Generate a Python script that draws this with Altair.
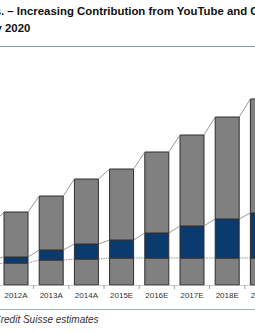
import altair as alt
import pandas as pd

# ---- data ----
years = [2011, 2012, 2013, 2014, 2015, 2016, 2017, 2018, 2019]
year_labels = ["2011A", "2012A", "2013A", "2014A", "2015E", "2016E", "2017E", "2018E", "2019E"]
base_vals = [10, 11, 12.5, 13, 13.5, 13.5, 13.5, 13.5, 13.5]
youtube_vals = [2.5, 3, 5, 7.5, 9, 12.5, 16, 19.5, 22.5]
other_vals = [18, 22.5, 27, 32.5, 35.5, 40.5, 45.5, 51, 57]

title_line1 = "s. \u2013 Increasing Contribution from YouTube and C"
title_line2 = "y 2020"
source_text = "Credit Suisse estimates"

HALF = 0.341  # half bar width in year units
W, H = 255, 333

# ---- build tables ----
seg_rows = []
conn_rows = []
lvl_base, lvl_yt, lvl_tot = [], [], []
for i, yr in enumerate(years):
    b = base_vals[i]
    y = b + youtube_vals[i]
    t = y + other_vals[i]
    lvl_base.append(b); lvl_yt.append(y); lvl_tot.append(t)
    for name, y0, y1 in [("Base", 0, b), ("YouTube", b, y), ("Other", y, t)]:
        seg_rows.append({"year": yr, "seg": name, "y0": y0, "y1": y1,
                         "x0": yr - HALF, "x1": yr + HALF})
for lvl_name, lvl in [("base", lvl_base), ("yt", lvl_yt), ("tot", lvl_tot)]:
    for i in range(len(years) - 1):
        conn_rows.append({"level": lvl_name, "xa": years[i] + HALF, "xb": years[i + 1] - HALF,
                          "ya": lvl[i], "yb": lvl[i + 1]})
segs = pd.DataFrame(seg_rows)
conns = pd.DataFrame(conn_rows)
labels_df = pd.DataFrame({"year": years, "label": year_labels})
ticks_df = pd.DataFrame({"t": [y + 0.5 for y in years]})
one = pd.DataFrame({"k": [0]})

xs = alt.Scale(domain=[2011.5455, 2018.79], nice=False, zero=False)
ys = alt.Scale(domain=[-24, 142.5], nice=False, zero=False)

bars = alt.Chart(segs).mark_bar(stroke="#2e2e2e", strokeWidth=1, clip=True).encode(
    x=alt.X("x0:Q", scale=xs, axis=None),
    x2="x1:Q",
    y=alt.Y("y0:Q", scale=ys, axis=None),
    y2="y1:Q",
    color=alt.Color("seg:N", legend=None,
                    scale=alt.Scale(domain=["Base", "YouTube", "Other"],
                                    range=["#808080", "#0b3a6e", "#808080"])),
)

conn_solid = alt.Chart(conns).transform_filter("datum.level != 'base'").mark_rule(
    color="#808080", strokeWidth=0.8, clip=True).encode(
    x=alt.X("xa:Q", scale=xs, axis=None), x2="xb:Q",
    y=alt.Y("ya:Q", scale=ys, axis=None), y2="yb:Q")
conn_dot = alt.Chart(conns).transform_filter("datum.level == 'base'").mark_rule(
    color="#777777", strokeWidth=0.8, strokeDash=[1.5, 1], clip=True).encode(
    x=alt.X("xa:Q", scale=xs, axis=None), x2="xb:Q",
    y=alt.Y("ya:Q", scale=ys, axis=None), y2="yb:Q")

axis_line = alt.Chart(one).mark_rule(color="#aaaaaa", strokeWidth=0.6).encode(
    x=alt.value(0), x2=alt.value(W), y=alt.value(285.5))
ticks = alt.Chart(ticks_df).mark_rule(color="#888888", strokeWidth=0.8, clip=True).encode(
    x=alt.X("t:Q", scale=xs, axis=None), y=alt.value(285.5), y2=alt.value(289))
xlabels = alt.Chart(labels_df).mark_text(
    font="Liberation Sans", fontSize=8, color="#333333", baseline="alphabetic", align="center").encode(
    x=alt.X("year:Q", scale=xs, axis=None), y=alt.value(298), text="label:N")

top_rule = alt.Chart(one).mark_rule(color="#8797ab", strokeWidth=1).encode(
    x=alt.value(0), x2=alt.value(W), y=alt.value(46.5))
bot_rule = alt.Chart(one).mark_rule(color="#a9b4c2", strokeWidth=1).encode(
    x=alt.value(0), x2=alt.value(W), y=alt.value(309.5))

t1 = alt.Chart(one).mark_text(font="Liberation Sans", fontSize=11.4, fontWeight="bold",
                              color="#111111", align="left", baseline="alphabetic").encode(
    x=alt.value(-5.3), y=alt.value(15), text=alt.value(title_line1))
t2 = alt.Chart(one).mark_text(font="Liberation Sans", fontSize=11.4, fontWeight="bold",
                              color="#111111", align="left", baseline="alphabetic").encode(
    x=alt.value(-4.5), y=alt.value(32), text=alt.value(title_line2))
src = alt.Chart(one).mark_text(font="Liberation Sans", fontSize=10, fontStyle="italic",
                               color="#333333", align="left", baseline="alphabetic").encode(
    x=alt.value(-6.5), y=alt.value(323), text=alt.value(source_text))

chart = alt.layer(bars, conn_solid, conn_dot, axis_line, ticks, xlabels,
                  top_rule, bot_rule, t1, t2, src).properties(
    width=W, height=H, padding=0, autosize=alt.AutoSizeParams(type="none"),
    background="white",
).configure_view(stroke=None)

chart.save("out.html", embed_options={"renderer": "svg", "actions": False})
